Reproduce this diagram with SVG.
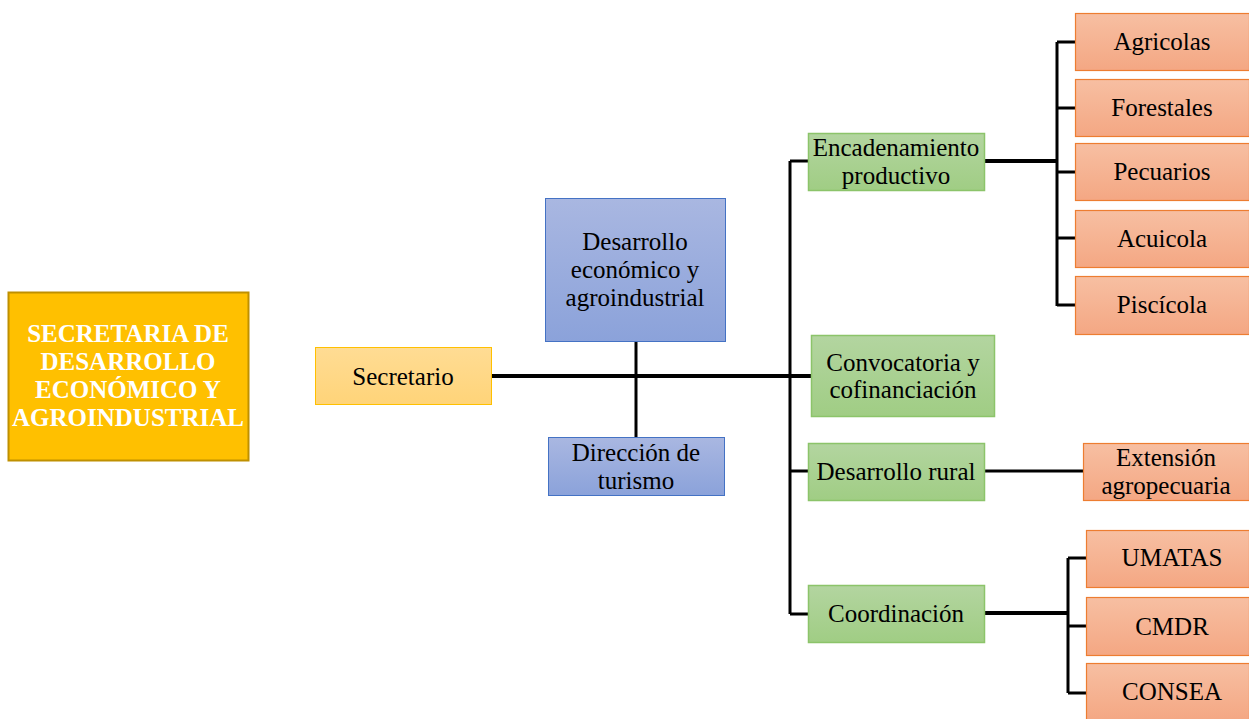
<svg xmlns="http://www.w3.org/2000/svg" width="1249" height="719" viewBox="0 0 1249 719">
<defs>
<linearGradient id="gY" x1="0" y1="0" x2="0" y2="1"><stop offset="0" stop-color="#FFDC94"/><stop offset="1" stop-color="#FFD479"/></linearGradient>
<linearGradient id="gB" x1="0" y1="0" x2="0" y2="1"><stop offset="0" stop-color="#A9B7E1"/><stop offset="1" stop-color="#8BA2DA"/></linearGradient>
<linearGradient id="gG" x1="0" y1="0" x2="0" y2="1"><stop offset="0" stop-color="#B3D5A0"/><stop offset="1" stop-color="#A0CD84"/></linearGradient>
<linearGradient id="gO" x1="0" y1="0" x2="0" y2="1"><stop offset="0" stop-color="#F7BFA2"/><stop offset="1" stop-color="#F4A783"/></linearGradient>
</defs>
<style>
text{font-family:"Liberation Serif","Times New Roman",serif;font-size:25px;fill:#000;text-anchor:middle}
.main text{fill:#fff;font-weight:bold;font-size:25px}
.y rect{fill:url(#gY);stroke:#FFC000;stroke-width:1}
.b rect{fill:url(#gB);stroke:#4472C4;stroke-width:1}
.g rect{fill:url(#gG);stroke:#8CC46A;stroke-width:1.5}
.o rect{fill:url(#gO);stroke:#ED7D31;stroke-width:1.2}
#connectors path{fill:none;stroke:#000;stroke-width:3}
#connectors .thick{stroke-width:4}
</style>
<rect width="1249" height="719" fill="#fff"/>
<g id="connectors">
<path class="thick" d="M491 376 H811"/>
<path d="M636 342 V437"/>
<path d="M790 161 V614 M790 161 H808 M790 471 H808 M790 614 H808"/>
<path class="thick" d="M984 161 H1057"/>
<path d="M1057 42 V306 M1057 42 H1076 M1057 108 H1076 M1057 172 H1076 M1057 238 H1076 M1057 305 H1076"/>
<path d="M984 471 H1083"/>
<path class="thick" d="M984 613 H1068"/>
<path d="M1068 558 V693 M1068 558 H1086 M1068 626 H1086 M1068 693 H1086"/>
</g>
<g id="n-main" class="main">
<rect x="8.5" y="292.5" width="240" height="168" fill="#FFC000" stroke="#BF9000" stroke-width="2"/>
<text x="128" y="342">SECRETARIA DE</text>
<text x="128" y="370">DESARROLLO</text>
<text x="128" y="398">ECONÓMICO Y</text>
<text x="128" y="426">AGROINDUSTRIAL</text>
</g>
<g id="n-secretario" class="y">
<rect x="315.5" y="347.5" width="176" height="57"/>
<text x="403" y="385">Secretario</text>
</g>
<g id="n-desarrollo-eco" class="b">
<rect x="545.5" y="198.5" width="180" height="143"/>
<text x="635" y="250">Desarrollo</text>
<text x="635" y="278">económico y</text>
<text x="635" y="306">agroindustrial</text>
</g>
<g id="n-turismo" class="b">
<rect x="548.5" y="437.5" width="176" height="58"/>
<text x="636" y="461">Dirección de</text>
<text x="636" y="489">turismo</text>
</g>
<g id="n-encadenamiento" class="g">
<rect x="808.5" y="133.5" width="176" height="57"/>
<text x="896" y="156">Encadenamiento</text>
<text x="896" y="184">productivo</text>
</g>
<g id="n-convocatoria" class="g">
<rect x="811.5" y="335.5" width="183" height="81"/>
<text x="903" y="371">Convocatoria y</text>
<text x="903" y="398">cofinanciación</text>
</g>
<g id="n-rural" class="g">
<rect x="808.5" y="443.5" width="176" height="57"/>
<text x="896" y="480">Desarrollo rural</text>
</g>
<g id="n-coordinacion" class="g">
<rect x="808.5" y="585.5" width="176" height="57"/>
<text x="896" y="622">Coordinación</text>
</g>
<g id="n-agricolas" class="o">
<rect x="1075.5" y="13.5" width="174" height="57"/>
<text x="1162" y="50">Agricolas</text>
</g>
<g id="n-forestales" class="o">
<rect x="1075.5" y="79.5" width="174" height="57"/>
<text x="1162" y="116">Forestales</text>
</g>
<g id="n-pecuarios" class="o">
<rect x="1075.5" y="143.5" width="174" height="57"/>
<text x="1162" y="180">Pecuarios</text>
</g>
<g id="n-acuicola" class="o">
<rect x="1075.5" y="210.5" width="174" height="57"/>
<text x="1162" y="247">Acuicola</text>
</g>
<g id="n-piscicola" class="o">
<rect x="1075.5" y="276.5" width="174" height="58"/>
<text x="1162" y="313">Piscícola</text>
</g>
<g id="n-extension" class="o">
<rect x="1083.5" y="443.5" width="166" height="57"/>
<text x="1166" y="466">Extensión</text>
<text x="1166" y="494">agropecuaria</text>
</g>
<g id="n-umatas" class="o">
<rect x="1086.5" y="530.5" width="163" height="57"/>
<text x="1172" y="566">UMATAS</text>
</g>
<g id="n-cmdr" class="o">
<rect x="1086.5" y="597.5" width="163" height="58"/>
<text x="1172" y="635">CMDR</text>
</g>
<g id="n-consea" class="o">
<rect x="1086.5" y="663.5" width="163" height="57"/>
<text x="1172" y="700">CONSEA</text>
</g>
</svg>
